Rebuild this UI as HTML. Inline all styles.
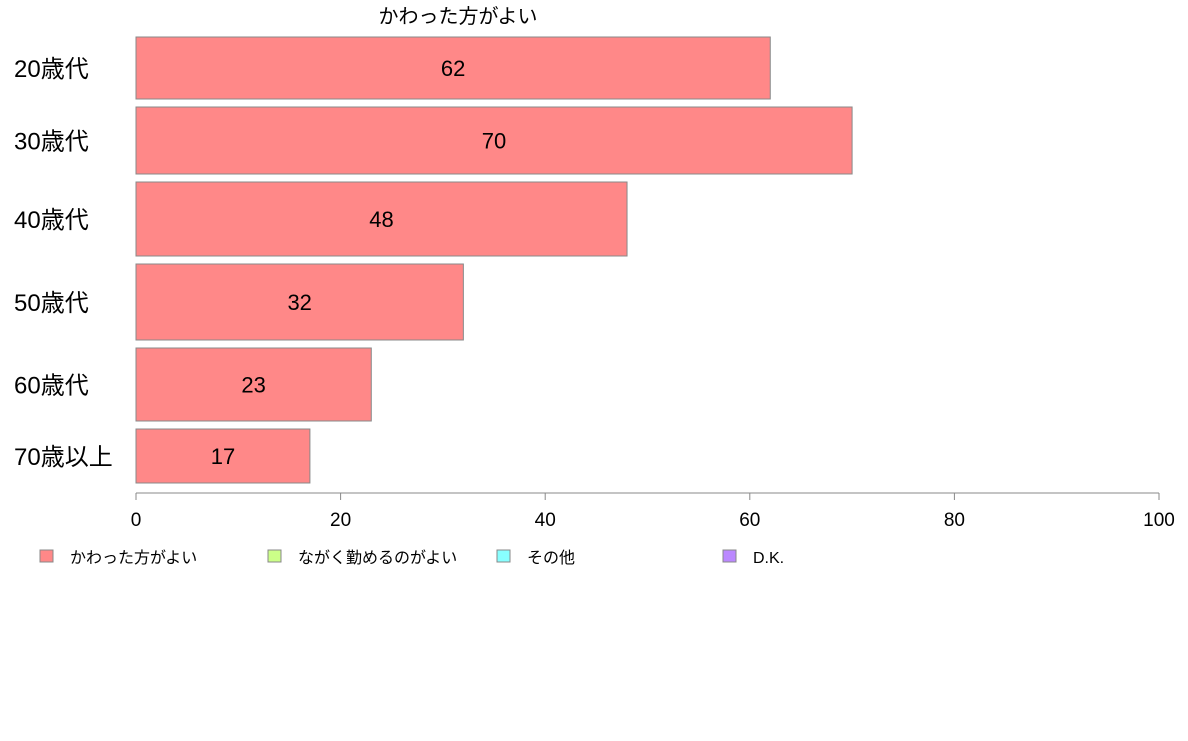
<!DOCTYPE html>
<html><head><meta charset="utf-8"><style>
body{margin:0;background:#fff;width:1188px;height:736px;overflow:hidden;font-family:"Liberation Sans","Noto Sans CJK JP",sans-serif}
</style></head><body>
<svg id="c" width="1188" height="736" xmlns="http://www.w3.org/2000/svg" font-family="Liberation Sans, Noto Sans CJK JP, sans-serif"></svg>
<script>
const categories=["20歳代","30歳代","40歳代","50歳代","60歳代","70歳以上"];
const values=[62,70,48,32,23,17];
const printed=["62","70","48","32","23","17"];
const weights=[62,67,74,76,73,54];
const ticks=[0,20,40,60,80,100];
const legendLabels=["かわった方がよい","ながく勤めるのがよい","その他","D.K."];
const legendColors=["#ff8888","#ccff88","#88ffff","#bb88ff"];
const NS="http://www.w3.org/2000/svg";
const svg=document.getElementById('c');
function mk(t,a,txt){const e=document.createElementNS(NS,t);for(const k in a)e.setAttribute(k,a[k]);if(txt!=null)e.textContent=txt;svg.appendChild(e);return e;}
const x0=136,x1=1159;
const xs=v=>x0+(x1-x0)*v/100;
const top0=37,gap=8;
let y=top0;
const title=mk('text',{x:458,y:23,'font-size':20,'text-anchor':'middle',fill:'#000'},"かわった方がよい");


categories.forEach((c,i)=>{
  const h=weights[i];
  const r=mk('rect',{x:x0,y:y,width:xs(values[i])-x0,height:h,fill:legendColors[0],stroke:'#888','stroke-width':1});
  
  
  const v=mk('text',{x:(x0+xs(values[i]))/2,y:y+h/2+8,'font-size':22,'text-anchor':'middle',fill:'#000'},printed[i]);
  
  
  const l=mk('text',{x:14,y:y+h/2+9,'font-size':24,fill:'#000'},c);
  
  
  y+=h+gap;
});
const ax=mk('line',{x1:x0,y1:493,x2:x1,y2:493,stroke:'#888','stroke-width':1});


ticks.forEach(t=>{
  const tk=mk('line',{x1:xs(t),y1:493,x2:xs(t),y2:500,stroke:'#888'});
  
  
  const tl=mk('text',{x:xs(t),y:526,'font-size':19,'text-anchor':'middle',fill:'#000'},String(t));
  
  
});
const lx=[40,268,497,723];
legendLabels.forEach((s,i)=>{
  const r=mk('rect',{x:lx[i],y:550,width:13,height:12,fill:legendColors[i],stroke:'#888'});
  
  
  const t=mk('text',{x:lx[i]+30,y:563,'font-size':16,fill:'#000'},s);
  
  
});
</script>
</body></html>
